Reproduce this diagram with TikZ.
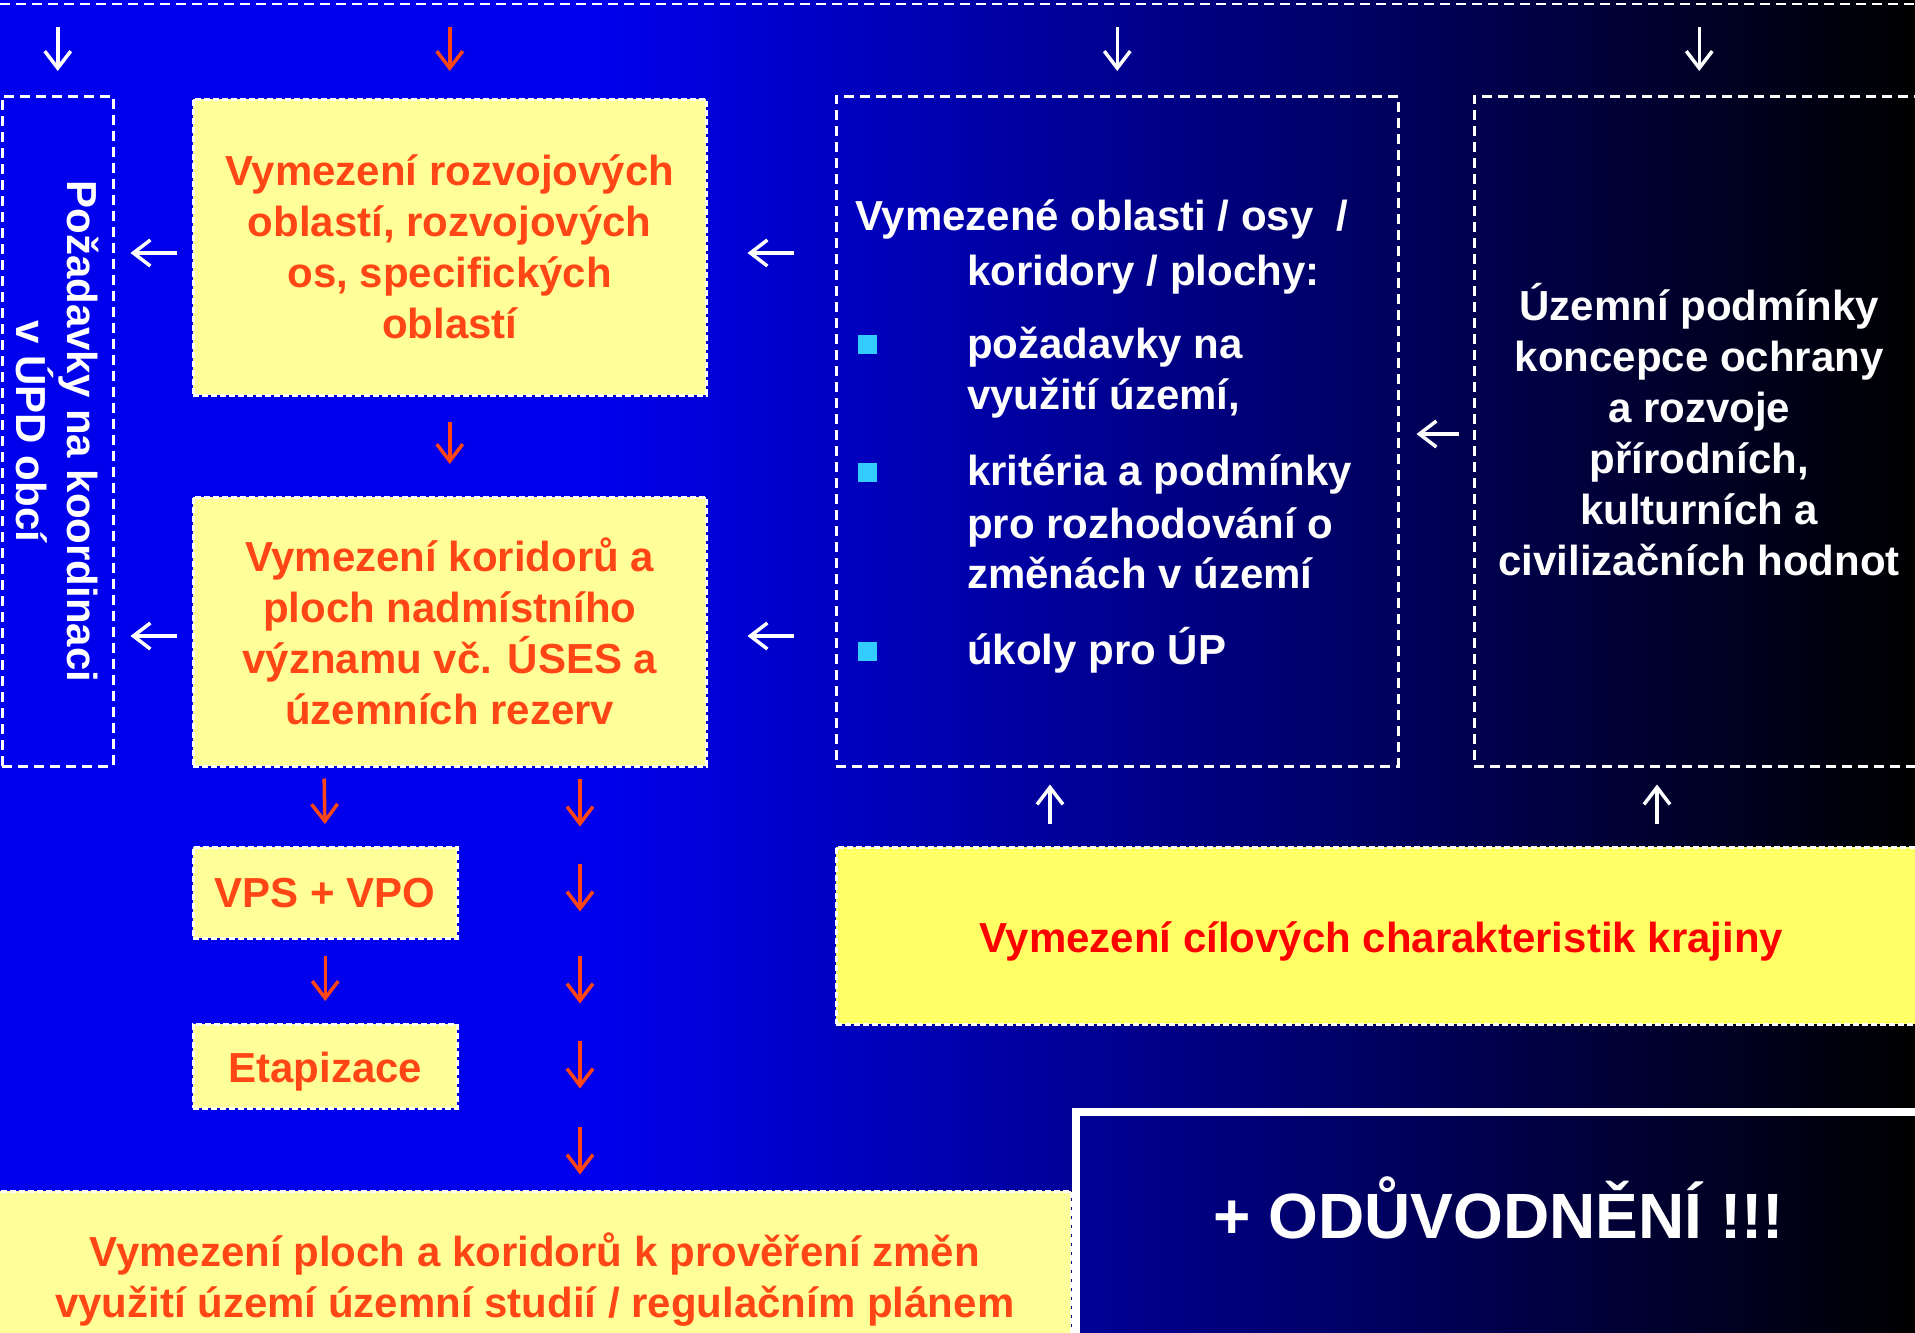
\documentclass[tikz,border=0pt]{standalone}
\usepackage{fontspec}
\setmainfont{Liberation Sans}
\usetikzlibrary{arrows.meta}
\definecolor{bgblue}{RGB}{0,0,236}
\definecolor{paley}{RGB}{255,255,153}
\definecolor{brighty}{RGB}{255,255,102}
\definecolor{ored}{RGB}{255,70,20}
\definecolor{bulc}{RGB}{51,204,255}
\newcommand\bigtxt{\fontsize{42}{51}\selectfont\bfseries}
\newcommand\hugetxt{\fontsize{64}{77}\selectfont\bfseries}
\begin{document}
\begin{tikzpicture}[x=1pt,y=-1pt,
  dbox/.style={draw=white, line width=2.5pt, dash pattern=on 10pt off 6pt, inner sep=0pt, anchor=north west},
  ybox/.style={fill=paley, draw=white, line width=2.5pt, dash pattern=on 6pt off 3pt, inner sep=0pt, anchor=north west, text=ored, align=center, font=\bigtxt},
  wtxt/.style={text=white, font=\bigtxt, inner sep=0pt},
  bul/.style={fill=bulc, inner sep=0pt, minimum size=19pt},
  warr/.style={draw=white, line width=3.5pt, -{Straight Barb[length=17pt,width=26pt]}},
  rarr/.style={warr, draw=ored}]
\useasboundingbox (0,0) rectangle (1915,1333);
% background
\fill[bgblue] (0,0) rectangle (601,1333);
\shade[left color=bgblue, right color=black] (600,0) rectangle (1915,1333);
% top line
\coordinate (tl) at (0,4);
\coordinate (tr) at (1915,4);
\draw[white, line width=2.5pt, dash pattern=on 10pt off 6pt] (tl) -- (tr);
% guide coordinates
\coordinate (ya) at (0,253);
\coordinate (yb) at (0,636);
\coordinate (yc) at (0,434);
\coordinate (xa) at (1050,0);
\coordinate (xb) at (1657,0);
\coordinate (xc) at (324,0);
\coordinate (xd) at (580,0);
% boxes
\node[dbox, minimum width=111pt, minimum height=670pt] (pl) at (1,95) {};
\node[wtxt, align=center, rotate=-90] (plt) at (pl.center) {Požadavky na koordinaci\\v ÚPD obcí};
\node[ybox, minimum width=513pt, minimum height=296pt] (b1) at (192,98) {Vymezení rozvojových\\oblastí, rozvojových\\os, specifických\\oblastí};
\node[ybox, minimum width=513pt, minimum height=269pt] (b2) at (192,496) {Vymezení koridorů a\\ploch nadmístního\\významu vč. ÚSES a\\územních rezerv};
\node[dbox, minimum width=562pt, minimum height=670pt] (mb) at (835,95) {};
\node[dbox, minimum width=450pt, minimum height=670pt] (rb) at (1473,95) {};
\node[ybox, fill=brighty, minimum width=1090pt, minimum height=177pt] (cb) at (835,846) {};
\node[text=red, font=\bigtxt, inner sep=0pt] (cbt) at ([yshift=-6pt]cb.center) {Vymezení cílových charakteristik krajiny};
\node[ybox, minimum width=264pt, minimum height=91pt] (vps) at (192,846) {VPS + VPO};
\node[ybox, minimum width=264pt, minimum height=84pt] (et) at (192,1023) {};
\node[text=ored, font=\bigtxt, inner sep=0pt] (ett) at ([yshift=-5pt]et.center) {Etapizace};
\node[ybox, minimum width=1073pt, minimum height=176pt] (bb) at (-3,1190) {Vymezení ploch a koridorů k prověření změn\\využití území územní studií / regulačním plánem};
\node[draw=white, line width=8pt, minimum width=846pt, minimum height=232pt, anchor=north west, inner sep=0pt] (od) at (1072,1108) {};
\node[font=\hugetxt, text=white, inner sep=0pt] (odt) at ([yshift=20pt]od.center) {+ ODŮVODNĚNÍ !!!};
% middle box text
\node[wtxt, anchor=base west] (m1) at (855,230) {Vymezené oblasti / osy\ \ /};
\node[wtxt, anchor=base west] (m2) at (967,285) {koridory / plochy:};
\node[wtxt, anchor=base west] (m3) at (967,358) {požadavky na};
\node[wtxt, anchor=base west] (m4) at (967,409) {využití území,};
\node[wtxt, anchor=base west] (m5) at (967,485) {kritéria a podmínky};
\node[wtxt, anchor=base west] (m6) at (967,538) {pro rozhodování o};
\node[wtxt, anchor=base west] (m7) at (967,588) {změnách v území};
\node[wtxt, anchor=base west] (m8) at (967,664) {úkoly pro ÚP};
\node[bul] (q1) at (867,344) {};
\node[bul] (q2) at (867,472) {};
\node[bul] (q3) at (867,651) {};
% right box text
\node[wtxt, align=center] (rt) at ([yshift=2pt]rb.center) {Územní podmínky\\koncepce ochrany\\a rozvoje\\přírodních,\\kulturních a\\civilizačních hodnot};
% arrows from top
\draw[warr, shorten <=23pt, shorten >=24pt] (tl -| pl.north) -- (pl.north);
\draw[rarr, shorten <=23pt, shorten >=27pt] (tl -| b1.north) -- (b1.north);
\draw[warr, shorten <=23pt, shorten >=24pt] (tl -| mb.north) -- (mb.north);
\draw[warr, shorten <=23pt, shorten >=24pt] (tl -| rb.north) -- (rb.north);
% vertical red
\draw[rarr, shorten <=25pt, shorten >=32pt] (b1.south) -- (b2.north);
\draw[rarr, shorten <=11pt, shorten >=22pt] (b2.south -| xc) -- (vps.north);
\draw[rarr, shorten <=16pt, shorten >=22pt] (vps.south) -- (et.north);
\foreach \o in {11,96,188,273,359} \draw[rarr] (b2.south -| xd) ++(0,\o) -- ++(0,48);
% left arrows
\draw[warr, shorten <=15pt, shorten >=16pt] (b1.west |- ya) -- (pl.east |- ya);
\draw[warr, shorten <=41pt, shorten >=40pt] (mb.west |- ya) -- (b1.east |- ya);
\draw[warr, shorten <=15pt, shorten >=16pt] (b2.west |- yb) -- (pl.east |- yb);
\draw[warr, shorten <=41pt, shorten >=40pt] (mb.west |- yb) -- (b2.east |- yb);
\draw[warr, shorten <=14pt, shorten >=17pt] (rb.west |- yc) -- (mb.east |- yc);
% up arrows
\draw[warr, shorten <=22pt, shorten >=17pt] (cb.north -| xa) -- (mb.south -| xa);
\draw[warr, shorten <=22pt, shorten >=17pt] (cb.north -| xb) -- (rb.south -| xb);
\end{tikzpicture}
\end{document}
